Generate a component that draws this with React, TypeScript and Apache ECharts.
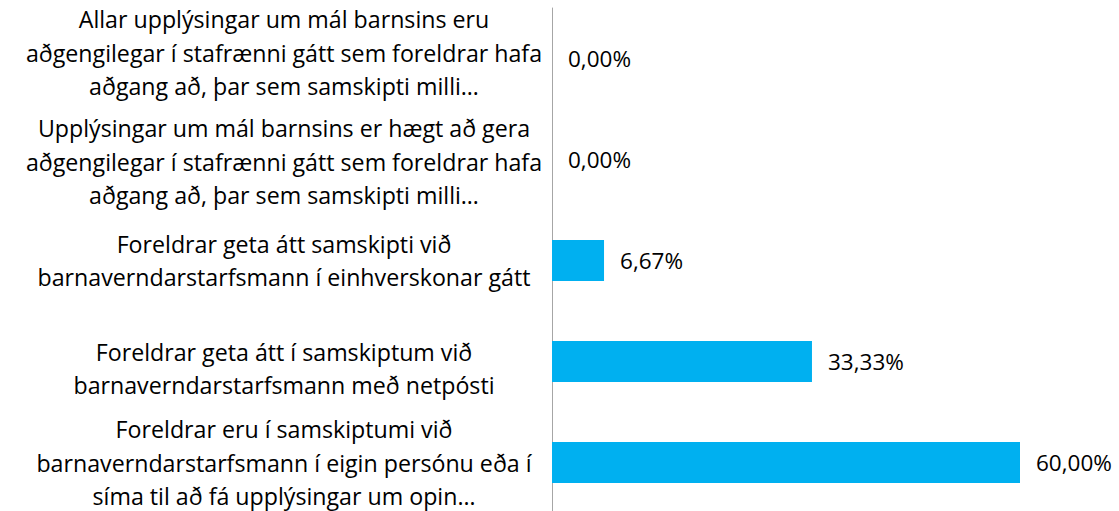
import React, { useEffect, useRef } from "react";
import * as echarts from "echarts";

const categories: string[] = [
  "Allar upplýsingar um mál barnsins eru\naðgengilegar í stafrænni gátt sem foreldrar hafa\naðgang að, þar sem samskipti milli…",
  "Upplýsingar um mál barnsins er hægt að gera\naðgengilegar í stafrænni gátt sem foreldrar hafa\naðgang að, þar sem samskipti milli…",
  "Foreldrar geta átt samskipti við\nbarnaverndarstarfsmann í einhverskonar gátt",
  "Foreldrar geta átt í samskiptum við\nbarnaverndarstarfsmann með netpósti",
  "Foreldrar eru í samskiptumi við\nbarnaverndarstarfsmann í eigin persónu eða í\nsíma til að fá upplýsingar um opin…",
];
const values: number[] = [0, 0, 6.67, 33.33, 60];
// vertical nudge of each category label (px, positive = down), as in the reference
const labelShift: number[] = [-6, 2, 0, 7, 0];

const FONT = "'Open Sans', sans-serif";

export default function App() {
  const ref = useRef<HTMLDivElement>(null);
  useEffect(() => {
    if (!ref.current) return;
    const chart = echarts.init(ref.current, undefined, { renderer: "svg" });
    const rich: Record<string, any> = {};
    labelShift.forEach((s, i) => {
      if (s !== 0) rich["g" + i] = { lineHeight: Math.abs(s) * 2, fontSize: 1, height: Math.abs(s) * 2 };
    });
    chart.setOption({
      animation: false,
      grid: {
        left: 552,
        right: 99,
        top: 8,
        bottom: -2,
        containLabel: false,
        outerBoundsMode: "none",
      },
      xAxis: {
        type: "value",
        min: 0,
        max: 60,
        show: false,
      },
      yAxis: {
        type: "category",
        inverse: true,
        data: categories,
        axisLine: { show: true, lineStyle: { color: "#a6a6a6", width: 1 } },
        axisTick: { show: false },
        axisLabel: {
          align: "center",
          fontFamily: FONT,
          fontSize: 23.2,
          lineHeight: 33.5,
          color: "#000",
          interval: 0,
          hideOverlap: false,
          margin: 268,
          rich,
          formatter: (v: string, i: number) => {
            const s = labelShift[i];
            if (s > 0) return `{g${i}| }\n` + v;
            if (s < 0) return v + `\n{g${i}| }`;
            return v;
          },
        },
      },
      series: [
        {
          type: "bar",
          data: values,
          barWidth: 41,
          itemStyle: { color: "#00B0F0" },
          label: {
            show: true,
            position: "right",
            distance: 16,
            fontFamily: FONT,
            fontSize: 22.5,
            color: "#000",
            formatter: (p: any) => p.value.toFixed(2).replace(".", ",") + "%",
          },
        },
      ],
    });
    return () => chart.dispose();
  }, []);
  return (
    <div
      ref={ref}
      style={{ position: "fixed", left: 0, top: 0, width: 1119, height: 511, background: "#fff" }}
    />
  );
}
